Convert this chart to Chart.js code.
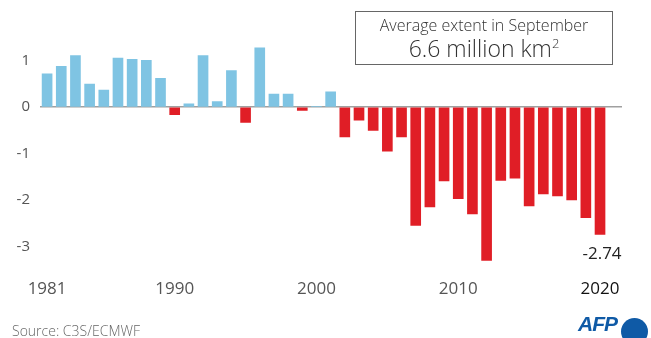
<!DOCTYPE html>
<html>
<head>
<meta charset="utf-8">
<script src="https://cdn.jsdelivr.net/npm/chart.js@4/dist/chart.umd.min.js"></script>
<style>
  html, body { margin: 0; padding: 0; background: #fff; }
  #wrap { position: relative; width: 651px; height: 338px; overflow: hidden; font-family: "Open Sans", "Noto Sans", sans-serif; }
  #chart { position: absolute; left: 0; top: 0; }
  #box { position: absolute; left: 355px; top: 11px; width: 256px; height: 52px; border: 1px solid #666; text-align: center; color: #333; }
  #box .l1 { font-size: 16px; line-height: 20px; margin-top: 3px; font-weight: 300; }
  #box .l2 { font-size: 23px; line-height: 26px; font-weight: 300; }
  #box sup { font-size: 13px; vertical-align: 9px; line-height: 0; }
  #source { position: absolute; left: 12px; top: 321px; font-size: 14px; color: #666; font-weight: 300; }
  #afp { position: absolute; left: 578px; top: 312px; font-size: 21px; font-weight: 800; font-style: italic; color: #0f5aa6; letter-spacing: -1px; font-family: "Liberation Sans", sans-serif; }
  #dot { position: absolute; left: 621px; top: 318px; width: 27px; height: 27px; border-radius: 50%; background: #0f5aa6; }
</style>
</head>
<body>
<div id="wrap">
  <canvas id="chart" width="651" height="338"></canvas>
  <div id="box"><div class="l1">Average extent in September</div><div class="l2">6.6 million km<sup>2</sup></div></div>
  <div id="source">Source: C3S/ECMWF</div>
  <div id="afp">AFP</div>
  <div id="dot"></div>
</div>
<script>
// Sea ice extent anomaly, September, million km2
const years = [];
for (let y = 1981; y <= 2020; y++) years.push(y);
const anomalies = [
  0.72, 0.88, 1.11, 0.50, 0.37, 1.06, 1.03, 1.01, 0.62, -0.16,
  0.07, 1.11, 0.12, 0.79, -0.33, 1.28, 0.28, 0.28, -0.07, 0.02,
  0.33, -0.64, -0.28, -0.50, -0.95, -0.64, -2.55, -2.15, -1.59, -1.97,
  -2.30, -3.30, -1.58, -1.53, -2.13, -1.87, -1.91, -2.00, -2.38, -2.74
];
const xTicks = [1981, 1990, 2000, 2010, 2020];
const yTicks = [-3, -2, -1, 0, 1];

const blue = '#7fc4e3';
const red = '#e01e26';

// label under the last bar
const lastLabel = {
  id: 'lastLabel',
  afterDatasetsDraw(chart) {
    const ctx = chart.ctx;
    const i = anomalies.length - 1;
    const x = chart.scales.x.getPixelForValue(years[i]);
    const y = chart.scales.y.getPixelForValue(anomalies[i]);
    ctx.save();
    ctx.font = '17px "Open Sans", sans-serif';
    ctx.fillStyle = '#222';
    ctx.textAlign = 'center';
    ctx.textBaseline = 'middle';
    ctx.fillText(anomalies[i].toFixed(2), x + 2, y + 20);
    ctx.restore();
  }
};

new Chart(document.getElementById('chart'), {
  type: 'bar',
  data: {
    datasets: [{
      data: years.map((y, i) => ({ x: y, y: anomalies[i] })),
      backgroundColor: anomalies.map(v => v >= 0 ? blue : red),
      barThickness: 10,
      borderWidth: 0
    }]
  },
  options: {
    responsive: false,
    animation: false,
    layout: { padding: { left: 0, right: 29, top: 19, bottom: 38 } },
    plugins: { legend: { display: false }, tooltip: { enabled: false } },
    scales: {
      x: {
        type: 'linear',
        offset: false,
        min: 1980.5,
        max: 2021.55,
        afterBuildTicks: s => { s.ticks = xTicks.map(v => ({ value: v })); },
        grid: { display: false, offset: false },
        border: { display: false },
        ticks: {
          autoSkip: false,
          maxRotation: 0,
          padding: 1,
          font: { family: '"Open Sans", sans-serif', size: 17 },
          color: c => c.tick.value === 2020 ? '#111' : '#555',
          callback: v => String(v)
        }
      },
      y: {
        min: -3.5,
        max: 1.9,
        afterBuildTicks: s => { s.ticks = yTicks.map(v => ({ value: v })); },
        afterFit: s => { s.width = 40; },
        grid: {
          drawTicks: false,
          lineWidth: 1.5,
          color: c => c.tick && c.tick.value === 0 ? '#a0a0a0' : 'rgba(0,0,0,0)'
        },
        border: { display: false },
        ticks: {
          padding: 10,
          font: { family: '"Open Sans", sans-serif', size: 15 },
          color: '#555',
          callback: v => String(v)
        }
      }
    }
  },
  plugins: [lastLabel]
});
</script>
</body>
</html>
